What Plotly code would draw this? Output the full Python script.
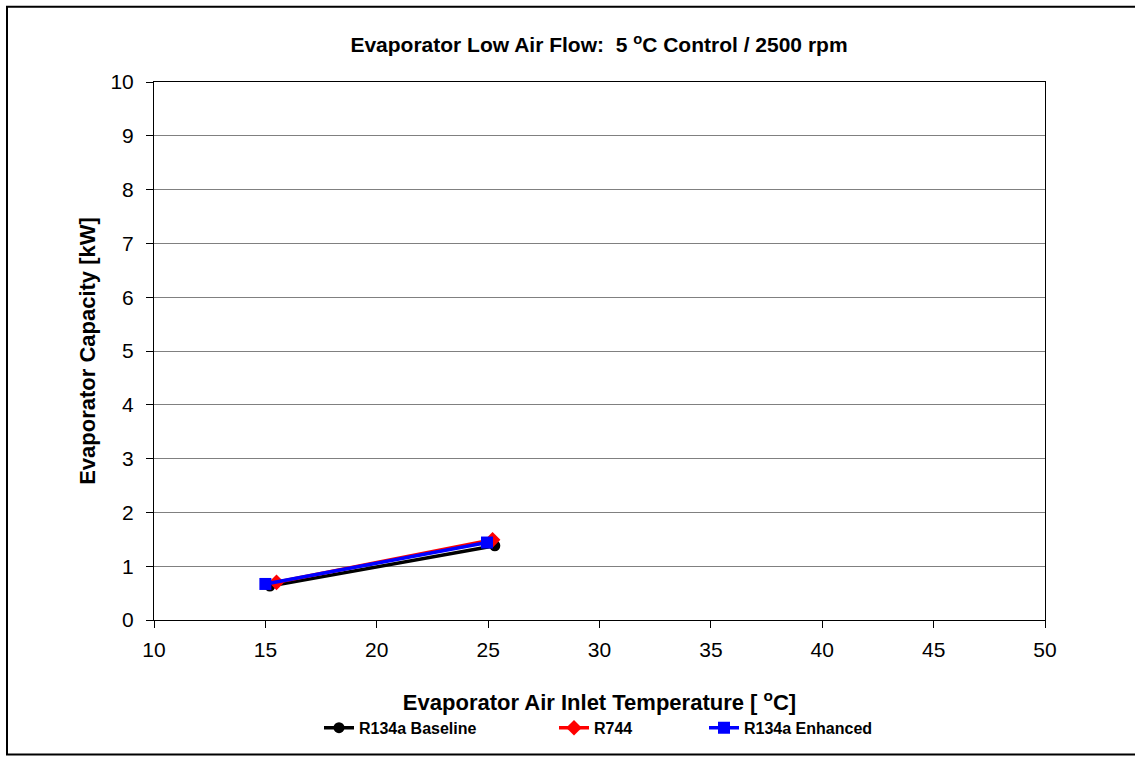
import plotly.graph_objects as go

# Data
baseline_x = [15.2, 25.3]
baseline_y = [0.63, 1.38]
r744_x = [15.5, 25.2]
r744_y = [0.70, 1.49]
enhanced_x = [15.0, 24.95]
enhanced_y = [0.67, 1.44]

x_ticks = [10, 15, 20, 25, 30, 35, 40, 45, 50]
y_ticks = [0, 1, 2, 3, 4, 5, 6, 7, 8, 9, 10]

FONT = "Liberation Sans, Arial, sans-serif"

fig = go.Figure()
fig.add_trace(go.Scatter(x=baseline_x, y=baseline_y, name="<b>R134a Baseline</b>",
                         mode="lines+markers", legend="legend",
                         line=dict(color="black", width=3.5),
                         marker=dict(symbol="circle", size=11, color="black")))
fig.add_trace(go.Scatter(x=r744_x, y=r744_y, name="<b>R744</b>",
                         mode="lines+markers", legend="legend2",
                         line=dict(color="#ff0000", width=3.5),
                         marker=dict(symbol="diamond", size=12, color="#ff0000")))
fig.add_trace(go.Scatter(x=enhanced_x, y=enhanced_y, name="<b>R134a Enhanced</b>",
                         mode="lines+markers", legend="legend3",
                         line=dict(color="#0000ff", width=3.5),
                         marker=dict(symbol="square", size=12, color="#0000ff")))

L, R, T, B = 154, 90, 82, 131
W, H = 1135, 757
pw, ph = W - L - R, H - T - B


def leg(px_left):
    return dict(orientation="h", x=(px_left - L) / pw, xanchor="left",
                y=-(735 - (T + ph)) / ph, yanchor="middle",
                font=dict(size=16, family=FONT), bgcolor="rgba(0,0,0,0)",
                itemwidth=30)


fig.update_layout(
    width=W, height=H,
    margin=dict(l=L, r=R, t=T, b=B),
    paper_bgcolor="white", plot_bgcolor="white",
    font=dict(family=FONT, color="black"),
    title=dict(text="<b>Evaporator Low Air Flow:  5 <sup>o</sup>C Control / 2500 rpm</b>",
               x=599 / W, xanchor="center", y=1 - 45 / H, yanchor="middle",
               font=dict(size=21, family=FONT)),
    xaxis=dict(range=[10, 50], tickvals=x_ticks, ticks="outside", ticklen=7,
               tickcolor="black", showline=True, linecolor="black", linewidth=1,
               mirror=True, showgrid=False, zeroline=False,
               tickfont=dict(size=21, family=FONT), ticklabelstandoff=4,
               title=dict(text="<b>Evaporator Air Inlet Temperature [ <sup>o</sup>C]</b>",
                          font=dict(size=22, family=FONT), standoff=34)),
    yaxis=dict(range=[0, 10], tickvals=y_ticks, ticks="outside", ticklen=7,
               tickcolor="black", showline=True, linecolor="black", linewidth=1,
               mirror=True, showgrid=True, gridcolor="#808080", gridwidth=1,
               zeroline=False,
               tickfont=dict(size=21, family=FONT), ticklabelstandoff=8,
               title=dict(text="<b>Evaporator Capacity [kW]</b>",
                          font=dict(size=22, family=FONT), standoff=8)),
    legend=leg(319),
    legend2=leg(554),
    legend3=leg(704),
    showlegend=True,
)

# Outer chart border
fig.add_shape(type="rect", xref="paper", yref="paper",
              x0=(7 - L) / pw, x1=(W + 5 - L) / pw,
              y0=-(H + 5 - T - ph) / ph, y1=1 + (T - 6) / ph,
              line=dict(color="black", width=2), fillcolor="rgba(0,0,0,0)",
              layer="below")

fig.write_html("out.html")
